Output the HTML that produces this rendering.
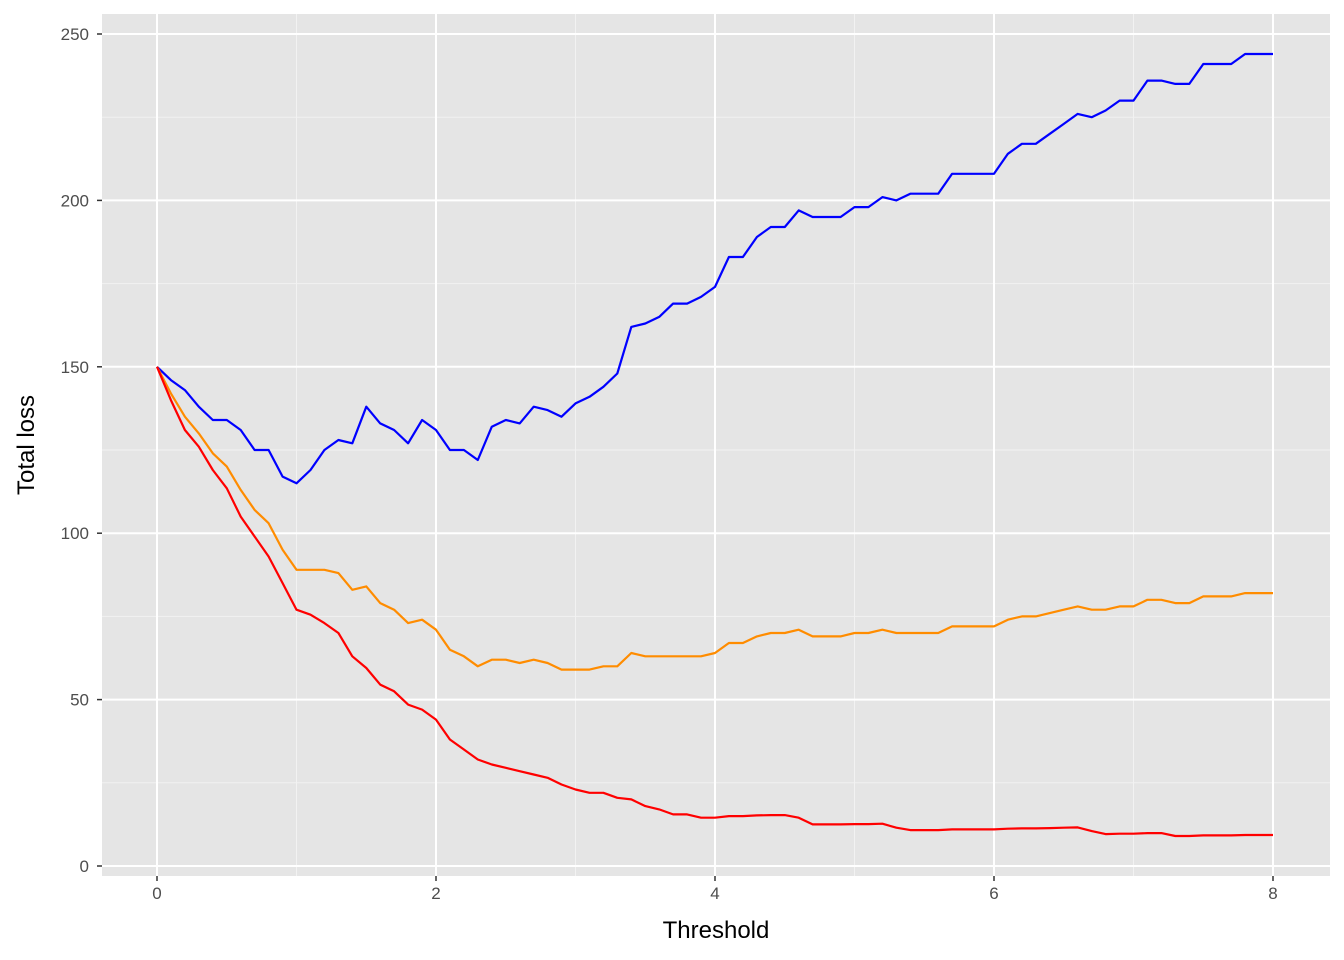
<!DOCTYPE html>
<html><head><meta charset="utf-8"><style>
html,body{margin:0;padding:0;background:#fff;}
svg{display:block;font-family:"Liberation Sans",Arial,sans-serif;}
</style></head><body>
<svg id="chart" width="1344" height="960" xmlns="http://www.w3.org/2000/svg"></svg>
<script>
const xTicks=[0,2,4,6,8];
const xMinor=[1,3,5,7];
const yTicks=[0,50,100,150,200,250];
const yMinor=[25,75,125,175,225];
const thresholds=[];for(let i=0;i<=80;i++)thresholds.push(i/10);
const blueLoss=[150,146,143,138,134,134,131,125,125,117,115,119,125,128,127,138,133,131,127,134,131,125,125,122,132,134,133,138,137,135,139,141,144,148,162,163,165,169,169,171,174,183,183,189,192,192,197,195,195,195,198,198,201,200,202,202,202,208,208,208,208,214,217,217,220,223,226,225,227,230,230,236,236,235,235,241,241,241,244,244,244];
const orangeLoss=[150,142,135,130,124,120,113,107,103,95,89,89,89,88,83,84,79,77,73,74,71,65,63,60,62,62,61,62,61,59,59,59,60,60,64,63,63,63,63,63,64,67,67,69,70,70,71,69,69,69,70,70,71,70,70,70,70,72,72,72,72,74,75,75,76,77,78,77,77,78,78,80,80,79,79,81,81,81,82,82,82];
const redLoss=[150,140,131,126,119,113.5,105,99,93,85,77,75.5,73,70,63,59.5,54.5,52.5,48.5,47,44,38,35,32,30.5,29.5,28.5,27.5,26.5,24.5,23,22,22,20.5,20,18,17,15.5,15.5,14.5,14.5,15,15,15.2,15.3,15.3,14.5,12.5,12.5,12.5,12.6,12.6,12.7,11.5,10.8,10.8,10.8,11,11,11,11,11.2,11.3,11.3,11.4,11.5,11.6,10.5,9.6,9.7,9.7,9.9,9.9,9,9,9.2,9.2,9.2,9.3,9.3,9.3];

const NS="http://www.w3.org/2000/svg";
const svg=document.getElementById('chart');
const P={l:102,r:1330,t:14,b:876};
const sx=v=>157+v*(1273-157)/8;
const sy=v=>866-v*(866-34)/250;
function mk(tag,attrs,parent){const e=document.createElementNS(NS,tag);for(const k in attrs)e.setAttribute(k,attrs[k]);(parent||svg).appendChild(e);return e;}

const panel=mk('rect',{x:P.l,y:P.t,width:P.r-P.l,height:P.b-P.t,fill:'#e5e5e5'});



xMinor.forEach(v=>{const l=mk('line',{x1:sx(v),x2:sx(v),y1:P.t,y2:P.b,stroke:'#f2f2f2','stroke-width':1});

});
yMinor.forEach(v=>{const l=mk('line',{x1:P.l,x2:P.r,y1:sy(v),y2:sy(v),stroke:'#f2f2f2','stroke-width':1});

});
xTicks.forEach(v=>{const l=mk('line',{x1:sx(v),x2:sx(v),y1:P.t,y2:P.b,stroke:'#fff','stroke-width':2});


const t=mk('line',{x1:sx(v),x2:sx(v),y1:P.b,y2:P.b+5,stroke:'#333','stroke-width':1.5});


const tx=mk('text',{x:sx(v),y:P.b+23,'text-anchor':'middle','font-size':17,fill:'#4d4d4d'});tx.textContent=v;

});
yTicks.forEach(v=>{const l=mk('line',{x1:P.l,x2:P.r,y1:sy(v),y2:sy(v),stroke:'#fff','stroke-width':2});


const t=mk('line',{x1:P.l-5,x2:P.l,y1:sy(v),y2:sy(v),stroke:'#333','stroke-width':1.5});


const tx=mk('text',{x:P.l-13,y:sy(v)+6,'text-anchor':'end','font-size':17,fill:'#4d4d4d'});tx.textContent=v;

});

function series(vals,color,name){const d=vals.map((v,i)=>(i?'L':'M')+sx(thresholds[i]).toFixed(1)+','+sy(v).toFixed(1)).join('');
const p=mk('path',{d:d,fill:'none',stroke:color,'stroke-width':2.2,'stroke-linejoin':'round'});

}
series(blueLoss,'#0000ff','blue-series-line');
series(orangeLoss,'#ff8c00','orange-series-line');
series(redLoss,'#ff0000','red-series-line');

const xt=mk('text',{x:(P.l+P.r)/2,y:938,'text-anchor':'middle','font-size':24,fill:'#000'});xt.textContent='Threshold';


const yt=mk('text',{x:0,y:0,'text-anchor':'middle','font-size':24,fill:'#000',transform:'translate(34,'+((P.t+P.b)/2)+') rotate(-90)'});yt.textContent='Total loss';


</script>
</body></html>
